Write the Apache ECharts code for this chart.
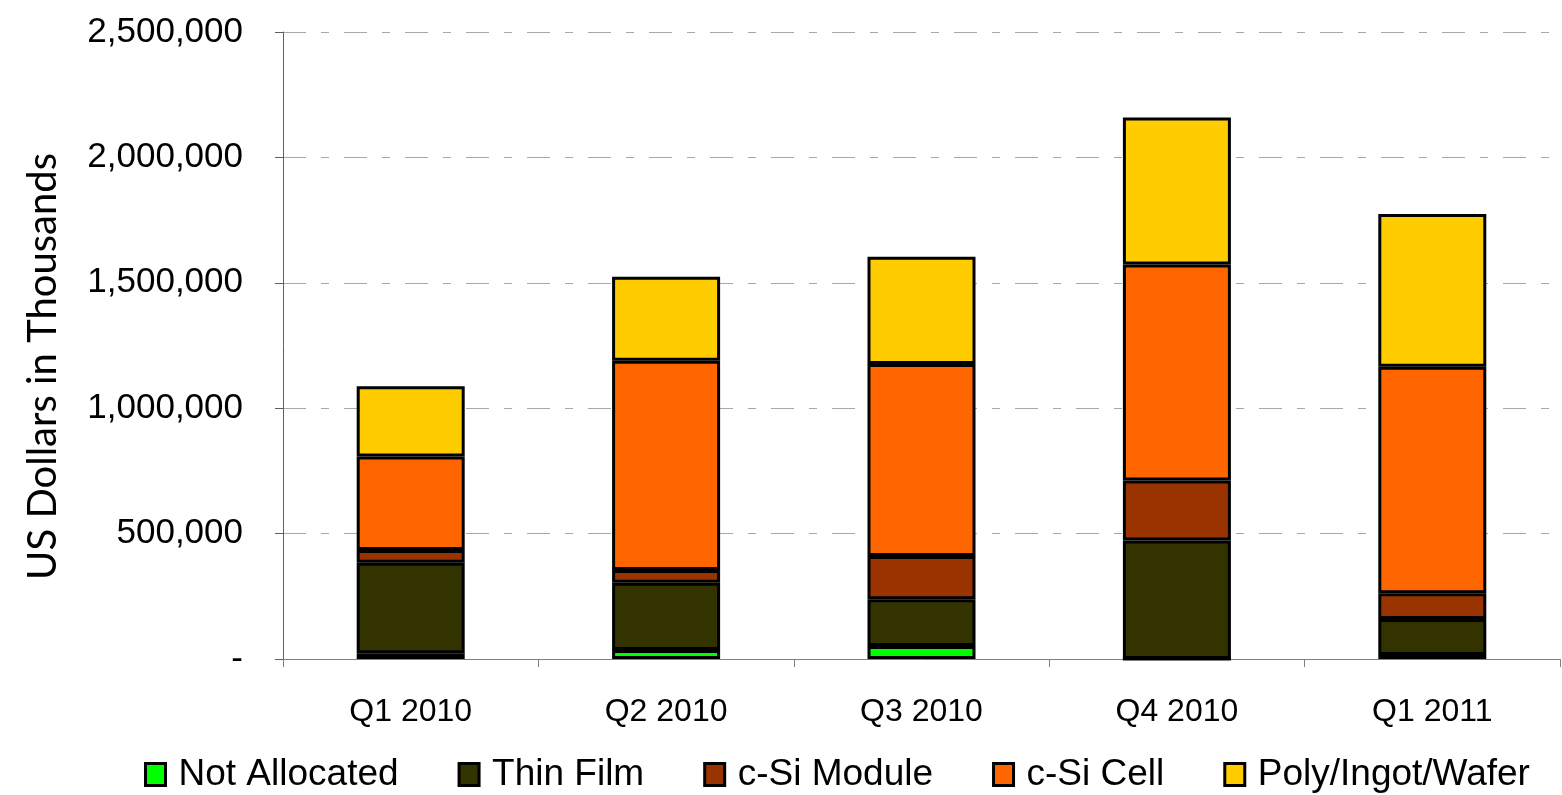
<!DOCTYPE html>
<html>
<head>
<meta charset="utf-8">
<script src="https://cdn.jsdelivr.net/npm/echarts@6/dist/echarts.min.js"></script>
<style>
html,body{margin:0;padding:0;background:#fff;}
#chart{width:1562px;height:795px;}
</style>
</head>
<body>
<div id="chart"></div>
<script>
const categories = ['Q1 2010', 'Q2 2010', 'Q3 2010', 'Q4 2010', 'Q1 2011'];
const notAllocated = [23000, 36000, 52000, 0, 16000];
const thinFilm = [361000, 268000, 186000, 472000, 143000];
const cSiModule = [51000, 51000, 173000, 240000, 103000];
const cSiCell = [372000, 834000, 765000, 861000, 903000];
const polyIngotWafer = [281000, 335000, 428000, 586000, 609000];
const yTicks = [0, 500000, 1000000, 1500000, 2000000, 2500000];

const seriesDefs = [
  {name: 'Not Allocated', data: notAllocated, color: '#00FF00'},
  {name: 'Thin Film', data: thinFilm, color: '#333300'},
  {name: 'c-Si Module', data: cSiModule, color: '#993300'},
  {name: 'c-Si Cell', data: cSiCell, color: '#FF6600'},
  {name: 'Poly/Ingot/Wafer', data: polyIngotWafer, color: '#FFCC00'}
];

function fmt(v) {
  if (v === 0) return '-';
  return String(v).replace(/\B(?=(\d{3})+(?!\d))/g, ',');
}

const chart = echarts.init(document.getElementById('chart'), null, {renderer: 'canvas'});
chart.setOption({
  animation: false,
  backgroundColor: '#ffffff',
  grid: {left: 283, right: 2, top: 32, bottom: 136, containLabel: false},
  legend: {
    left: 139,
    top: 751,
    itemWidth: 20,
    itemHeight: 22,
    itemGap: 59,
    icon: 'rect',
    itemStyle: {borderColor: '#000', borderWidth: 3},
    textStyle: {fontFamily: 'Liberation Sans, Arial, sans-serif', fontSize: 37, color: '#000', padding: [0, 0, 0, 8]},
    data: seriesDefs.map(s => s.name)
  },
  xAxis: {
    type: 'category',
    data: categories,
    boundaryGap: true,
    axisLine: {lineStyle: {color: '#808080', width: 1}},
    axisTick: {show: true, length: 8, lineStyle: {color: '#808080'}},
    axisLabel: {fontFamily: 'Liberation Sans, Arial, sans-serif', fontSize: 32, color: '#000', margin: 37}
  },
  yAxis: {
    type: 'value',
    min: 0,
    max: 2500000,
    interval: 500000,
    name: 'US Dollars in Thousands',
    nameLocation: 'middle',
    nameGap: 220,
    nameTextStyle: {fontFamily: 'Lato, Open Sans, sans-serif', fontSize: 40, color: '#000', padding: [0, 42, 0, 0]},
    axisLine: {show: true, lineStyle: {color: '#606060', width: 1}},
    axisTick: {show: true, length: 8, lineStyle: {color: '#606060'}},
    axisLabel: {
      fontFamily: 'Liberation Sans, Arial, sans-serif', fontSize: 35, color: '#000', margin: 40,
      formatter: function (v) { return yTicks.indexOf(v) >= 0 ? fmt(v) : ''; }
    },
    splitLine: {show: true, lineStyle: {color: '#a8a8a8', width: 1, type: [23, 15, 8, 15]}}
  },
  series: seriesDefs.map(s => ({
    name: s.name,
    type: 'bar',
    stack: 'total',
    data: s.data,
    barWidth: 108,
    itemStyle: {color: s.color, borderColor: '#000', borderWidth: 3}
  }))
});
</script>
</body>
</html>
